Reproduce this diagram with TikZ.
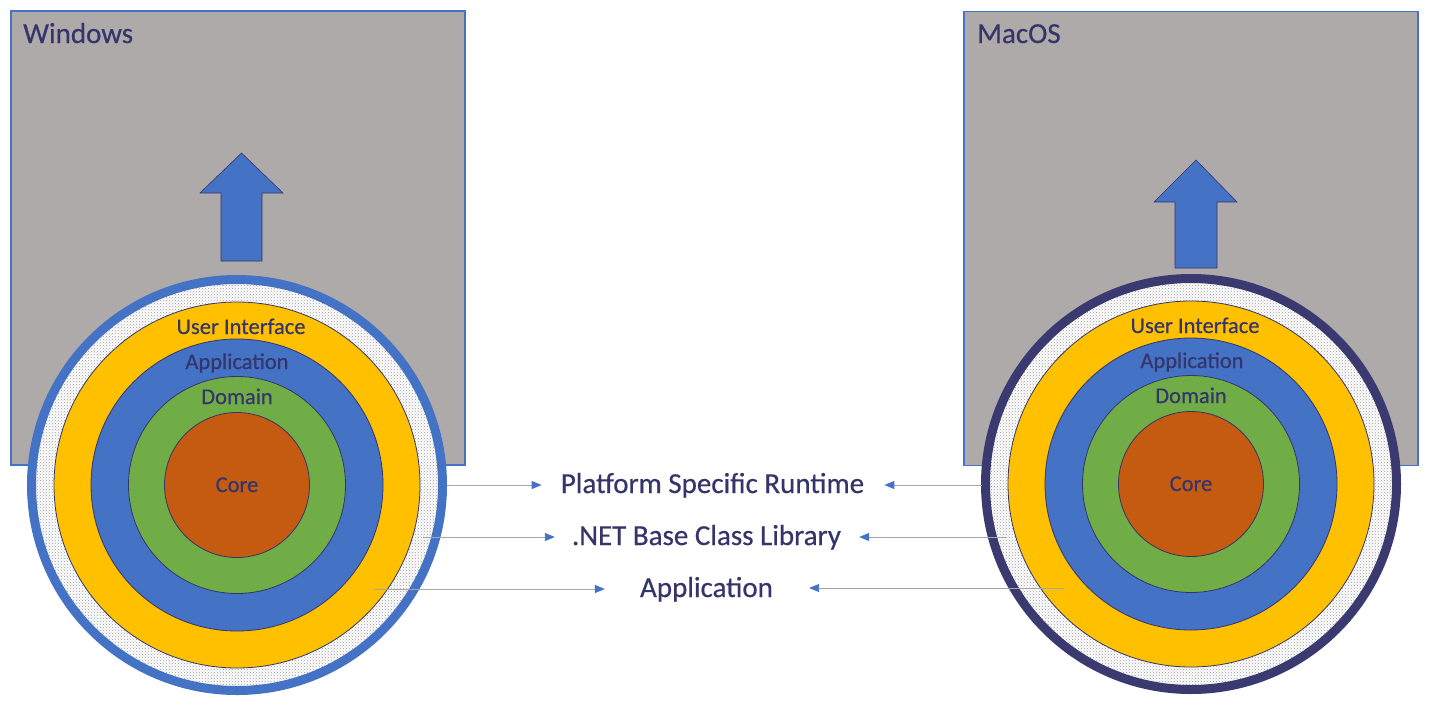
\documentclass[tikz,border=0pt]{standalone}
\usepackage{fontspec}
\setmainfont{Carlito}
\newfontfamily\heavyfont{Carlito}[FakeBold=0.5]
\usetikzlibrary{arrows.meta,patterns}
\definecolor{obox}{HTML}{AEAAAA}
\definecolor{oblue}{HTML}{4472C4}
\definecolor{oyel}{HTML}{FFC000}
\definecolor{ogreen}{HTML}{70AD47}
\definecolor{oorange}{HTML}{C55A11}
\definecolor{onavy}{HTML}{35356B}
\definecolor{oring}{HTML}{3B3A70}
\definecolor{ogray}{HTML}{A6A6A6}
\begin{document}
\begin{tikzpicture}[x=1pt,y=-1pt,
 osbox/.style={draw=oblue, line width=1.2pt, fill=obox, minimum width=454pt, minimum height=454pt, inner sep=0},
 ostitle/.style={anchor=base west, inner sep=0, text=onavy, font=\heavyfont\fontsize{29}{33}\selectfont},
 uparrow/.style={fill=oblue, draw=onavy, line width=0.6pt},
 ring/.style={circle, inner sep=0, minimum size=411pt, line width=9pt, preaction={fill=white}, pattern=crosshatch dots, pattern color=gray!80},
 layer/.style={circle, inner sep=0, draw=onavy, line width=0.8pt},
 lyrlabel/.style={anchor=base, inner sep=0, text=onavy, font=\heavyfont\fontsize{22.5}{26}\selectfont},
 midlabel/.style={anchor=base, inner sep=0, text=onavy, font=\heavyfont\fontsize{29}{33}\selectfont},
 conn/.style={draw=ogray, line width=0.9pt, -{Triangle[length=10pt,width=8pt,color=oblue,fill=oblue]}},
]
\useasboundingbox (0,0) rectangle (1432,710);
\fill[white] (0,0) rectangle (1432,710);

% platform boxes
\node[osbox] (winbox) at (238,238) {};
\node[osbox] (macbox) at (1191,238.5) {};
\node[ostitle] (wintitle) at (23,43) {Windows};
\node[ostitle] (mactitle) at (977,43) {MacOS};

% up arrows
\draw[uparrow] (221,261) -- (221,193) -- (200,193) -- (241.5,153) -- (283,193) -- (262,193) -- (262,261) -- cycle;
\draw[uparrow] (1175,268) -- (1175,202) -- (1154,202) -- (1196,160) -- (1237,202) -- (1217,202) -- (1217,268) -- cycle;

% Windows onion
\node[ring, draw=oblue] (wring) at (237,485) {};
\node[layer, fill=oyel, minimum size=366pt] (wui) at (237,485) {};
\node[layer, fill=oblue, minimum size=292pt] (wapp) at (237,485) {};
\node[layer, fill=ogreen, minimum size=217pt] (wdom) at (237,485) {};
\node[layer, fill=oorange, minimum size=145pt] (wcore) at (237,485) {};
\node[lyrlabel] (wuil) at (241,334) {User Interface};
\node[lyrlabel] (wappl) at (237,369) {Application};
\node[lyrlabel] (wdoml) at (237,404) {Domain};
\node[lyrlabel] (wcorel) at (237,492) {Core};

% MacOS onion
\node[ring, draw=oring] (mring) at (1191,484) {};
\node[layer, fill=oyel, minimum size=366pt] (mui) at (1191,484) {};
\node[layer, fill=oblue, minimum size=292pt] (mapp) at (1191,484) {};
\node[layer, fill=ogreen, minimum size=217pt] (mdom) at (1191,484) {};
\node[layer, fill=oorange, minimum size=145pt] (mcore) at (1191,484) {};
\node[lyrlabel] (muil) at (1195,333) {User Interface};
\node[lyrlabel] (mappl) at (1192,368) {Application};
\node[lyrlabel] (mdoml) at (1191,403) {Domain};
\node[lyrlabel] (mcorel) at (1191,491) {Core};

% middle labels
\node[midlabel] (prt) at (712.5,493) {Platform Specific Runtime};
\node[midlabel] (bcl) at (706.5,545) {.NET Base Class Library};
\node[midlabel] (app) at (706.5,597) {Application};

% connector start points
\coordinate (wl1) at (447,485);
\coordinate (wl2) at (423,537);
\coordinate (wl3) at (373,589);
\coordinate (mr1) at (982,485);
\coordinate (mr2) at (1007,537);
\coordinate (mr3) at (1064,588);

\draw[conn, shorten >=19pt] (wl1) -- (wl1 -| prt.west);
\draw[conn, shorten >=17pt] (wl2) -- (wl2 -| bcl.west);
\draw[conn, shorten >=35pt] (wl3) -- (wl3 -| app.west);
\draw[conn, shorten >=20pt] (mr1) -- (mr1 -| prt.east);
\draw[conn, shorten >=18pt] (mr2) -- (mr2 -| bcl.east);
\draw[conn, shorten >=36pt] (mr3) -- (mr3 -| app.east);
\end{tikzpicture}
\end{document}
